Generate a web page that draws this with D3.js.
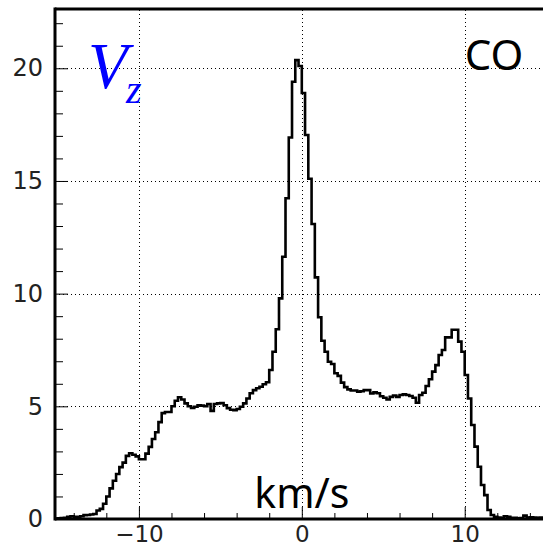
<!DOCTYPE html>
<html>
<head>
<meta charset="utf-8">
<script src="https://cdn.jsdelivr.net/npm/d3@7"></script>
<style>
  body { margin: 0; background: #fff; }
  svg { display: block; }
</style>
</head>
<body>
<div id="chart"></div>
<script>
// histogram of Vz for CO, 150 bins of 0.2 km/s from -15 to 15
const binLow = -15
const binWidth = 0.2
const counts = [
  0.03, 0.04, 0.05, 0.1, 0.12, 0.1, 0.1, 0.12, 0.17, 0.18,
  0.2, 0.22, 0.38, 0.45, 0.68, 1.0, 1.36, 1.7, 2.0, 2.3,
  2.5, 2.8, 2.92, 2.85, 2.78, 2.65, 2.65, 2.9, 3.2, 3.55,
  3.85, 4.3, 4.7, 4.75, 4.75, 5.0, 5.25, 5.4, 5.3, 5.13,
  5.0, 4.93, 4.98, 5.05, 5.03, 5.0, 5.1, 4.8, 5.1, 5.13,
  5.15, 5.05, 4.92, 4.85, 4.83, 4.88, 4.98, 5.13, 5.35, 5.58,
  5.72, 5.8, 5.87, 5.98, 6.07, 6.61, 7.42, 8.42, 9.79, 11.64,
  14.23, 16.93, 19.4, 20.36, 20.1, 18.9, 17.04, 15.1, 13.09, 10.72,
  8.95, 7.91, 7.42, 6.98, 6.88, 6.47, 6.35, 6.05, 5.85, 5.75,
  5.7, 5.7, 5.65, 5.67, 5.72, 5.72, 5.57, 5.62, 5.58, 5.45,
  5.38, 5.3, 5.42, 5.48, 5.42, 5.5, 5.53, 5.5, 5.46, 5.38,
  5.16, 5.5, 5.6, 5.9, 6.2, 6.54, 6.83, 7.28, 7.5, 8.06,
  8.06, 8.4, 8.4, 7.87, 7.42, 6.39, 5.35, 4.17, 3.21, 2.32,
  1.51, 1.06, 0.4, 0.18, 0.1, 0.06, 0.05, 0.12, 0.1, 0.05,
  0.05, 0.03, 0.04, 0.15, 0.06, 0.08, 0.06, 0.05, 0.06, 0.05
]
const xMajor = [-10, 0, 10]
const xMinor = [-14, -12, -8, -6, -4, -2, 2, 4, 6, 8, 12, 14]
const yMajor = [0, 5, 10, 15, 20]
const yMinor = [1, 2, 3, 4, 6, 7, 8, 9, 11, 12, 13, 14, 16, 17, 18, 19, 21, 22]
const xTitle = "km/s"
const label = "CO"

const W = 543, H = 548
const padL = 55, padT = 9, baseY = 519

let x = d3.scaleLinear().domain([-15.15, 15.15]).range([padL, 548.6])
let y = d3.scaleLinear().domain([0, 22.63]).range([baseY, padT])

let svg = d3.select("#chart").append("svg")
  .attr("width", W).attr("height", H)

svg.append("defs").append("clipPath").attr("id", "plot")
  .append("rect")
  .attr("x", padL).attr("y", padT)
  .attr("width", W - padL).attr("height", baseY - padT)

// dotted grid
let grid = svg.append("g")
  .attr("stroke", "#000").attr("stroke-width", 1)
  .attr("stroke-dasharray", "1,3")
grid.selectAll(".gx").data(xMajor).enter().append("line")
  .attr("x1", d => Math.round(x(d)) + 0.5).attr("x2", d => Math.round(x(d)) + 0.5)
  .attr("y1", baseY).attr("y2", padT)
grid.selectAll(".gy").data(yMajor.filter(d => d > 0)).enter().append("line")
  .attr("y1", d => Math.round(y(d)) + 0.5).attr("y2", d => Math.round(y(d)) + 0.5)
  .attr("x1", padL).attr("x2", W)

// histogram outline
let pts = [[binLow, 0]]
counts.forEach((c, i) => pts.push([binLow + i * binWidth, c]))
pts.push([binLow + counts.length * binWidth, counts[counts.length - 1]])
pts.push([binLow + counts.length * binWidth, 0])

let line = d3.line()
  .x(d => x(d[0]))
  .y(d => y(d[1]))
  .curve(d3.curveStepAfter)

svg.append("path")
  .attr("clip-path", "url(#plot)")
  .attr("d", line(pts))
  .attr("fill", "none")
  .attr("stroke", "#000")
  .attr("stroke-width", 2.6)
  .attr("stroke-linejoin", "miter")

// axes (ticks point into the frame)
const tickFont = "'DejaVu Sans', sans-serif"

svg.append("g")
  .attr("transform", `translate(${padL},0)`)
  .call(d3.axisLeft(y).tickValues(yMajor).tickSize(-13).tickPadding(12))
  .call(g => g.select(".domain").remove())
  .call(g => g.selectAll("text").style("font-family", tickFont).style("font-size", "24px").attr("fill", "#222"))

svg.append("g")
  .attr("transform", `translate(${padL},0)`)
  .call(d3.axisLeft(y).tickValues(yMinor).tickSize(-8).tickFormat(""))
  .call(g => g.select(".domain").remove())

svg.append("g")
  .attr("transform", `translate(0,${baseY})`)
  .call(d3.axisBottom(x).tickValues(xMajor).tickSize(-12).tickPadding(7))
  .call(g => g.select(".domain").remove())
  .call(g => g.selectAll("text").style("font-family", tickFont).style("font-size", "23px").attr("fill", "#222"))

svg.append("g")
  .attr("transform", `translate(0,${baseY})`)
  .call(d3.axisBottom(x).tickValues(xMinor).tickSize(-6).tickFormat(""))
  .call(g => g.select(".domain").remove())

// frame
let frame = svg.append("g").attr("stroke", "#000").attr("stroke-width", 3)
frame.append("line").attr("x1", padL).attr("x2", padL).attr("y1", padT - 1.5).attr("y2", baseY + 1.5)
frame.append("line").attr("x1", padL).attr("x2", W).attr("y1", padT).attr("y2", padT)
frame.append("line").attr("x1", padL).attr("x2", W).attr("y1", baseY).attr("y2", baseY)

// texts
svg.append("text")
  .attr("x", x(0)).attr("y", 508)
  .attr("text-anchor", "middle")
  .style("font-family", "'Noto Sans', sans-serif")
  .style("font-size", "41px")
  .text(xTitle)

svg.append("text")
  .attr("x", 494).attr("y", 70)
  .attr("text-anchor", "middle")
  .style("font-family", "'Noto Sans', sans-serif")
  .style("font-size", "42px")
  .text(label)

let vz = svg.append("text")
  .attr("x", 88).attr("y", 88)
  .attr("fill", "#0000ff")
  .style("font-family", "'Liberation Serif', serif")
  .style("font-style", "italic")
vz.append("tspan").style("font-size", "65px").text("V")
vz.append("tspan").attr("x", 126).attr("y", 103).style("font-size", "40px").text("z")
</script>
</body>
</html>
